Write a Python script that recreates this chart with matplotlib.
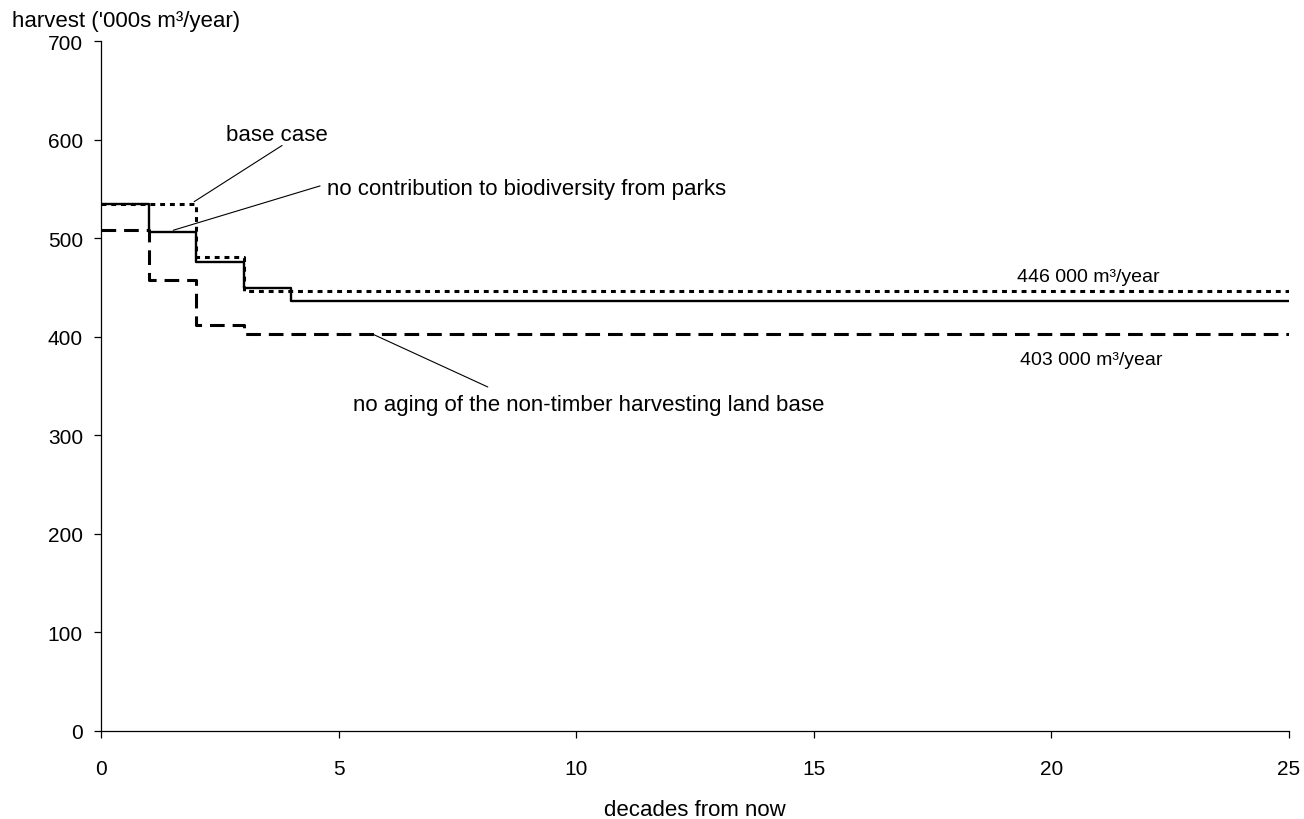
import matplotlib.pyplot as plt

plt.rcParams['font.family'] = ['Liberation Sans', 'DejaVu Sans']
plt.rcParams['font.size'] = 16

# decade at which each step starts (step 'post'), last point closes the line
decades = [0, 1, 2, 3, 4, 25]
base_case = [535, 535, 481, 446, 446, 446]
no_parks = [535, 506, 476, 449, 436, 436]
no_aging = [508, 458, 412, 403, 403, 403]

y_ticks = [0, 100, 200, 300, 400, 500, 600, 700]
x_ticks = [0, 5, 10, 15, 20, 25]

fig = plt.figure(figsize=(13.04, 8.2), dpi=100)
ax = fig.add_axes([101 / 1304, 1 - 732 / 820, 1188 / 1304, 690 / 820])

ax.step(decades, base_case, where='post', color='black', lw=2.2,
        linestyle=(0, (1.6, 1.6)), zorder=2)
ax.step(decades, no_aging, where='post', color='black', lw=2.2,
        linestyle=(0, (4.8, 2.6)), zorder=2)
ax.step(decades, no_parks, where='post', color='black', lw=1.7, zorder=3)

ax.set_xlim(0, 25)
ax.set_ylim(0, 700)
ax.set_xticks(x_ticks)
ax.set_yticks(y_ticks)
for s in ['top', 'right']:
    ax.spines[s].set_visible(False)
for s in ['left', 'bottom']:
    ax.spines[s].set_linewidth(0.9)
ax.tick_params(axis='both', labelsize=15)
ax.tick_params(axis='x', direction='out', length=5, width=0.9, pad=15)
ax.tick_params(axis='y', direction='out', length=5, width=0.9, pad=8)

# labels and leader lines
leader = dict(arrowstyle='-', lw=0.8, color='black', shrinkA=0, shrinkB=0)
ax.text(3.70, 605, 'base case', ha='center', va='center')
ax.annotate('', xy=(1.96, 537), xytext=(3.81, 594), arrowprops=leader)
ax.text(4.76, 550, 'no contribution to biodiversity from parks', ha='left', va='center')
ax.annotate('', xy=(1.52, 508), xytext=(4.61, 553), arrowprops=leader)
ax.text(5.30, 331, 'no aging of the non-timber harvesting land base', ha='left', va='center')
ax.annotate('', xy=(5.70, 403), xytext=(8.14, 349), arrowprops=leader)
ax.text(19.28, 461, '446 000 m³/year', ha='left', va='center', fontsize=14)
ax.text(19.34, 377, '403 000 m³/year', ha='left', va='center', fontsize=14)

fig.text(12 / 1304, 1 - 22 / 820, "harvest ('000s m³/year)", ha='left', va='center')
fig.text(695 / 1304, 1 - 811 / 820, 'decades from now', ha='center', va='center')

fig.savefig('out.png', dpi=100)
